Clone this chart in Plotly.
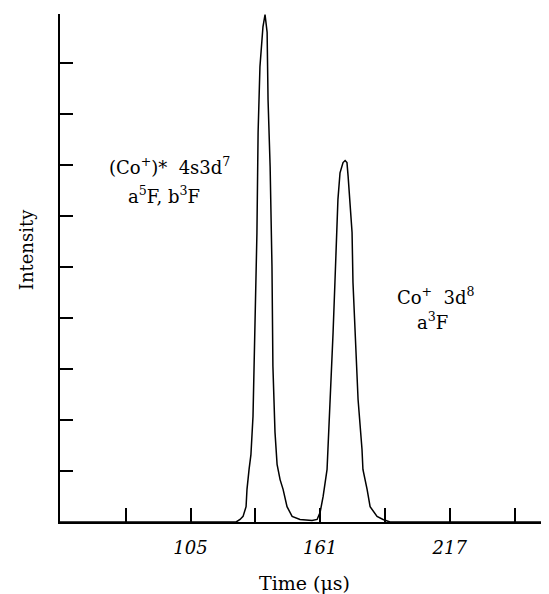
import plotly.graph_objects as go

# Trace (time in us, intensity in tick units)
time_us = [48.6, 124.7, 126.4, 127.7, 129.0, 129.4, 130.3, 131.1, 132.0, 132.9, 133.7,
           134.2, 135.0, 136.3, 137.2, 138.1, 138.5, 139.4, 140.2, 140.6, 141.5,
           142.4, 143.7, 145.0, 146.7, 148.9, 152.3, 157.5,
           159.7, 161.0, 162.3, 164.0, 164.4, 165.3, 166.6, 167.4, 168.3, 168.7,
           169.6, 170.9, 171.8, 172.6, 173.1, 173.9, 174.8, 175.2, 176.1, 177.4,
           179.1, 179.5, 181.3, 182.6, 185.6, 188.2, 191.2, 259.9]
intensity = [0.0, 0.0, 0.05, 0.11, 0.30, 0.64, 1.03, 1.32, 2.07, 3.71, 5.67,
             7.63, 8.92, 9.70, 9.94, 9.59, 8.27, 6.96, 5.00, 3.05, 1.76,
             1.13, 0.83, 0.64, 0.30, 0.11, 0.05, 0.03,
             0.05, 0.19, 0.50, 1.03, 1.42, 2.40, 3.71, 4.69, 5.67, 6.32,
             6.84, 7.04, 7.08, 7.04, 6.77, 6.32, 5.67, 4.69, 3.71, 2.40,
             1.42, 1.03, 0.64, 0.30, 0.11, 0.05, 0.0, 0.0]

x_tick_vals = [77, 105, 133, 161, 189, 217, 245]
x_tick_text = ["", "105", "", "161", "", "217", ""]
y_tick_vals = [1, 2, 3, 4, 5, 6, 7, 8, 9]

label_lines = [
    ("(Co<sup>+</sup>)*  4s3d<sup>7</sup>", 96.1, 6.98),
    ("a<sup>5</sup>F, b<sup>3</sup>F", 93.5, 6.41),
    ("Co<sup>+</sup>  3d<sup>8</sup>", 211.1, 4.42),
    ("a<sup>3</sup>F", 209.4, 3.93),
]

FONT = "DejaVu Serif"

fig = go.Figure()
fig.add_trace(go.Scatter(x=time_us, y=intensity, mode="lines",
                         line=dict(color="black", width=1.5), showlegend=False,
                         hoverinfo="skip"))

annotations = [
    dict(text="Intensity", textangle=-90, xref="paper", yref="paper",
         x=-0.0695, y=0.535, showarrow=False, xanchor="center", yanchor="middle",
         font=dict(family=FONT, size=18)),
]
for txt, xv, yv in label_lines:
    annotations.append(dict(text=txt, xref="x", yref="y", x=xv, y=yv,
                            showarrow=False, xanchor="center", yanchor="middle",
                            font=dict(family=FONT, size=18)))

# page body has an 8px default margin, so the figure is drawn 8px smaller
fig.update_layout(
    width=541, height=586,
    margin=dict(l=52, r=0, t=6, b=72),
    paper_bgcolor="white", plot_bgcolor="white",
    font=dict(family=FONT, color="black", size=18),
    xaxis=dict(range=[48.6, 259.9], showgrid=False, zeroline=False,
               showline=True, linecolor="black", linewidth=2,
               ticks="inside", ticklen=14, tickwidth=1.5, tickcolor="black",
               tickvals=x_tick_vals, ticktext=x_tick_text,
               tickfont=dict(family=FONT, size=18, style="italic"),
               ticklabelstandoff=8, automargin=False,
               title=dict(text="Time (μs)", font=dict(family=FONT, size=19),
                          standoff=27)),
    yaxis=dict(range=[0, 9.95], showgrid=False, zeroline=False,
               showline=True, linecolor="black", linewidth=2,
               ticks="inside", ticklen=13, tickwidth=1.5, tickcolor="black",
               tickvals=y_tick_vals, showticklabels=False, automargin=False),
    annotations=annotations,
)

fig.write_html("out.html")
